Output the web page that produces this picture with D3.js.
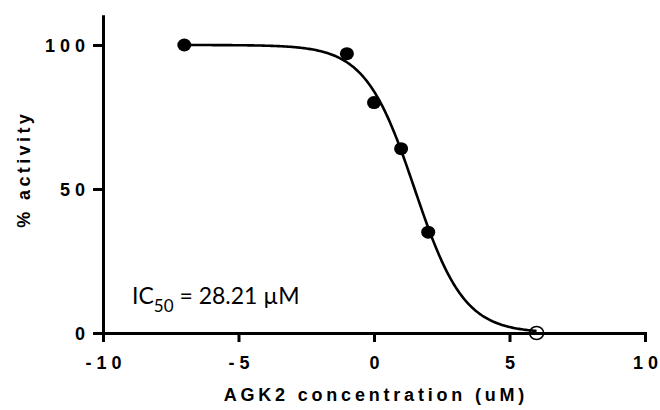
<!DOCTYPE html>
<html>
<head>
<meta charset="utf-8">
<script src="https://cdn.jsdelivr.net/npm/d3@7"></script>
<style>
  html, body { margin: 0; padding: 0; background: #fff; }
  svg { display: block; }
</style>
</head>
<body>
<svg id="chart" width="660" height="410"></svg>
<script>
// ---- data ----
const concentrations = [-7, -1, 0, 1, 2];
const activities = [100, 97, 80, 64, 35];
const excludedConc = [6];
const excludedAct = [0];
// fitted sigmoid parameters: [top, bottom, logIC50 (axis units), hill slope]
const fitParams = [100, 0, 1.5, 0.478];
const fitRange = [-7, 6];
const xTicks = [-10, -5, 0, 5, 10];
const yTicks = [0, 50, 100];
const xDomain = [-10, 10];
const yDomain = [0, 110];
const xTitle = "AGK2 concentration (uM)";
const yTitle = "% activity";
const icLabel = ["IC", "50", " = 28.21 µM"];

// ---- layout ----
const svg = d3.select("#chart");
const mLeft = 103, mRight = 645, mTop = 16.2, mBottom = 333;
const x = d3.scaleLinear().domain(xDomain).range([mLeft, mRight]);
const y = d3.scaleLinear().domain(yDomain).range([mBottom, mTop]);

const tickFont = "'Liberation Sans', Arial, sans-serif";

// letter-spaced text without trailing space after the last glyph
function spaced(sel, str, ls) {
  sel.text(null);
  sel.append("tspan").style("letter-spacing", ls).text(str.slice(0, -1));
  sel.append("tspan").style("letter-spacing", "0px").text(str.slice(-1));
}

// x axis
const gx = svg.append("g").attr("transform", `translate(0,${mBottom})`)
  .call(d3.axisBottom(x).tickValues(xTicks).tickSize(9).tickSizeOuter(0).tickFormat(d => String(d)));
// y axis
const gy = svg.append("g").attr("transform", `translate(${mLeft},0)`)
  .call(d3.axisLeft(y).tickValues(yTicks).tickSize(10).tickSizeOuter(0).tickFormat(d => String(d)));

[gx, gy].forEach(g => {
  g.select(".domain").attr("stroke", "#000").attr("stroke-width", 3).attr("stroke-linecap", "square");
  g.selectAll(".tick line").attr("stroke", "#000").attr("stroke-width", 3);
  g.selectAll(".tick text")
    .attr("fill", "#000")
    .style("font-family", tickFont)
    .style("font-weight", "bold")
    .style("font-size", "18px")
    .each(function(d) { spaced(d3.select(this), String(d), "5px"); });
});
gx.selectAll(".tick text").attr("y", 23).attr("dy", "0.71em");
gy.selectAll(".tick text").attr("x", -18).attr("dy", "0.36em");

// fitted curve
const [topV, botV, logIC, hill] = fitParams;
const f = v => botV + (topV - botV) / (1 + Math.pow(10, (v - logIC) * hill));
const curvePts = d3.range(fitRange[0], fitRange[1] + 0.0001, 0.05).map(v => [v, f(v)]);
svg.append("path")
  .datum(curvePts)
  .attr("fill", "none")
  .attr("stroke", "#000")
  .attr("stroke-width", 2.6)
  .attr("d", d3.line().x(d => x(d[0])).y(d => y(d[1])));

// data points
svg.append("g").selectAll("ellipse")
  .data(concentrations.map((c, i) => [c, activities[i]]))
  .join("ellipse")
  .attr("cx", d => x(d[0]))
  .attr("cy", d => y(d[1]))
  .attr("rx", 7)
  .attr("ry", 6.5)
  .attr("fill", "#000");

svg.append("g").selectAll("ellipse")
  .data(excludedConc.map((c, i) => [c, excludedAct[i]]))
  .join("ellipse")
  .attr("cx", d => x(d[0]))
  .attr("cy", d => y(d[1]))
  .attr("rx", 7)
  .attr("ry", 6.5)
  .attr("fill", "none")
  .attr("stroke", "#000")
  .attr("stroke-width", 1.5);

// axis titles
const xt = svg.append("text")
  .attr("x", (mLeft + mRight) / 2)
  .attr("y", 401)
  .attr("text-anchor", "middle")
  .style("font-family", tickFont)
  .style("font-weight", "bold")
  .style("font-size", "18px");
spaced(xt, xTitle, "3.8px");

const yt = svg.append("text")
  .attr("transform", "translate(30,171) rotate(-90)")
  .attr("text-anchor", "middle")
  .style("font-family", tickFont)
  .style("font-weight", "bold")
  .style("font-size", "18px");
spaced(yt, yTitle, "3.4px");

// IC50 annotation
const ic = svg.append("text")
  .attr("x", 132)
  .attr("y", 304)
  .style("font-family", "Lato, 'Open Sans', sans-serif")
  .style("font-size", "23px")
  .attr("fill", "#000");
ic.append("tspan").text(icLabel[0]);
ic.append("tspan").attr("dy", 8).style("font-size", "17px").text(icLabel[1]);
ic.append("tspan").attr("dy", -8).text(icLabel[2]);
</script>
</body>
</html>
